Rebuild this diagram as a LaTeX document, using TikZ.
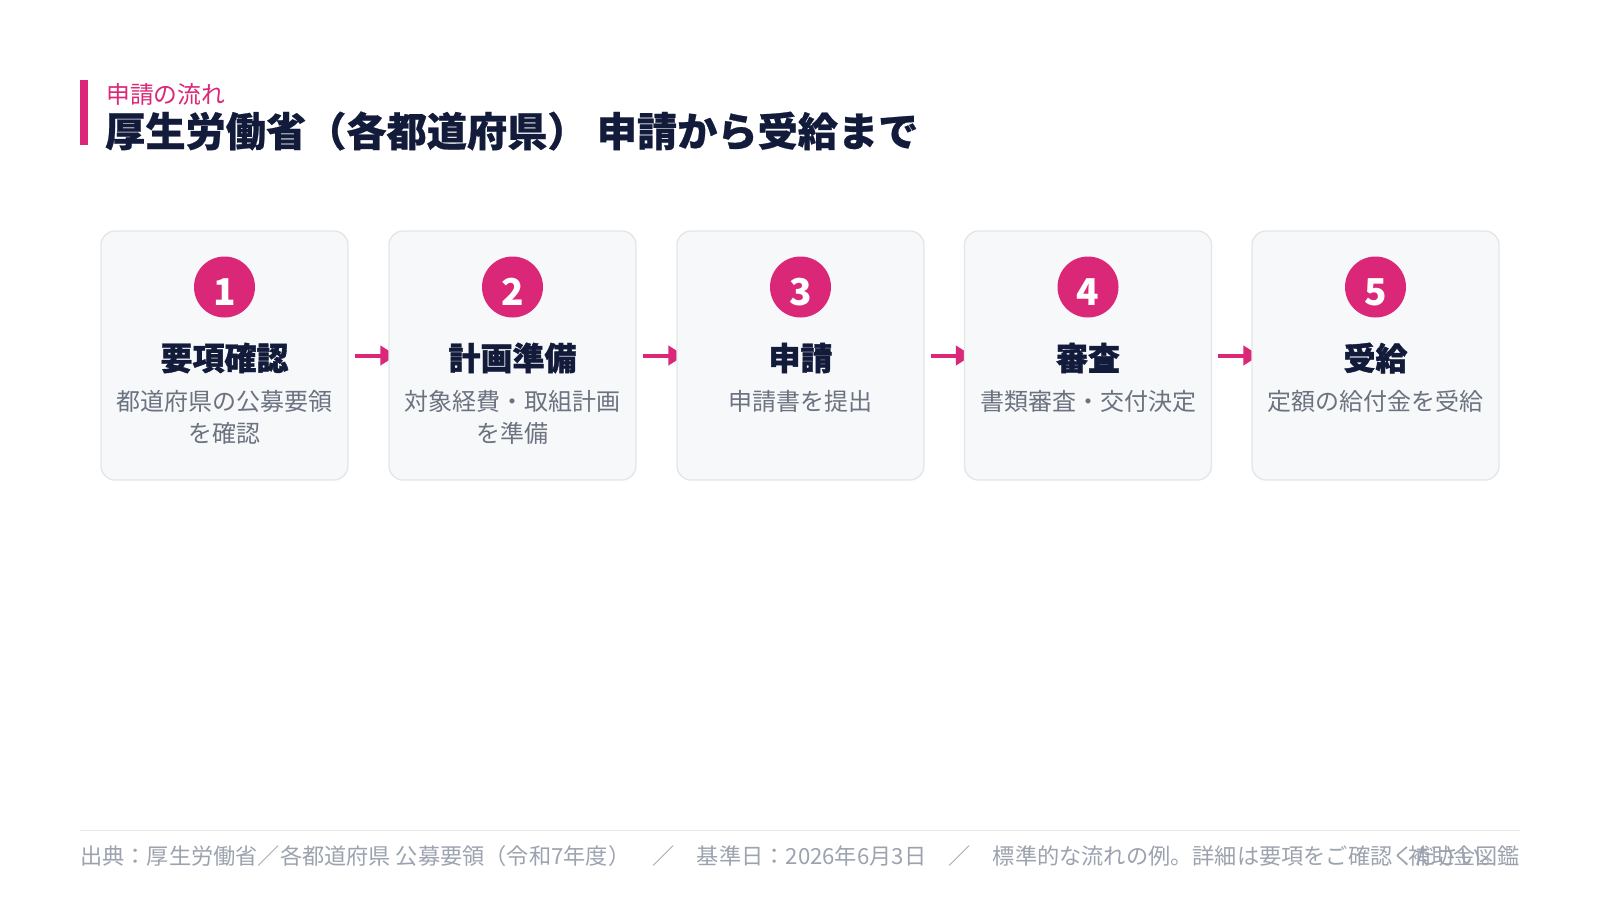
\documentclass[tikz,border=0pt]{standalone}
\usepackage{fontspec}
\setmainfont{Noto Sans CJK JP}
\newfontfamily\heavy[BoldFeatures={FakeBold=1.3}]{Noto Sans CJK JP}
\newfontfamily\semiheavy[BoldFeatures={FakeBold=0.6}]{Noto Sans CJK JP}
\usetikzlibrary{arrows.meta,backgrounds}
\definecolor{pink}{HTML}{DB2777}
\definecolor{navy}{HTML}{131B3B}
\definecolor{desc}{HTML}{6B7280}
\definecolor{foot}{HTML}{9CA3AF}
\definecolor{cardfill}{HTML}{F7F8FA}
\definecolor{cardline}{HTML}{E2E5EA}
\definecolor{rule}{HTML}{E5E7EB}
\tikzset{
  card/.style={draw=cardline, fill=cardfill, line width=1.3pt, rounded corners=14pt,
    minimum width=247pt, minimum height=249pt, inner sep=0pt},
  num/.style={circle, fill=pink, minimum size=61pt, inner sep=0pt, text=white},
  numtext/.style={text=white, inner sep=0pt, font=\fontsize{37}{40}\selectfont\bfseries},
  head/.style={text=navy, inner sep=0pt, font=\fontsize{32}{36}\selectfont\heavy\bfseries},
  line/.style={text=desc, inner sep=0pt, font=\fontsize{24}{30}\selectfont},
  arr/.style={draw=pink, line width=4pt, -{Triangle[length=16pt,width=19pt]}},
}
\begin{document}
\begin{tikzpicture}[x=1pt,y=-1pt]
\path[use as bounding box] (0,0) rectangle (1600,900);
% header
\fill[pink] (80,80) rectangle (88,145);
\node[anchor=west, inner sep=0pt, text=pink, font=\fontsize{23.8}{26}\selectfont] (sub) at (106,94) {申請の流れ};
\node[anchor=west, inner sep=0pt, text=navy, font=\fontsize{40.2}{44}\selectfont\semiheavy\bfseries] (title) at (105,131) {厚生労働省（各都道府県） 申請から受給まで};
% cards
\foreach \i/\x in {1/224.5, 2/512.5, 3/800.5, 4/1088, 5/1375.5} {
  \node[card] (c\i) at (\x,355.5) {};
  \node[num] (n\i) at (\x,287) {};
  \node[numtext] (t\i) at (\x,292) {\i};
}
\node[head] (h1) at (224.5,358) {要項確認};
\node[line] (d1a) at (224.5,401) {都道府県の公募要領};
\node[line] (d1b) at (224.5,433) {を確認};
\node[head] (h2) at (512.5,358) {計画準備};
\node[line] (d2a) at (512.5,401) {対象経費・取組計画};
\node[line] (d2b) at (512.5,433) {を準備};
\node[head] (h3) at (800.5,358) {申請};
\node[line] (d3a) at (800.5,401) {申請書を提出};
\node[head] (h4) at (1088,358) {審査};
\node[line] (d4a) at (1088,401) {書類審査・交付決定};
\node[head] (h5) at (1375.5,358) {受給};
\node[line] (d5a) at (1375.5,401) {定額の給付金を受給};
% background: page and arrows (arrow tips run under the cards)
\begin{scope}[on background layer]
  \fill[white] (0,0) rectangle (1600,900);
  \foreach \a/\b in {1/2, 2/3, 3/4, 4/5} {
    \draw[arr] ([xshift=6pt]c\a.east) -- ([xshift=8pt]c\b.west);
  }
\end{scope}
% footer
\coordinate (fl) at (80,830);
\coordinate (fr) at (1520,830);
\draw[rule, line width=1pt] (fl) -- (fr);
\node[anchor=west, inner sep=0pt, text=foot, font=\fontsize{22.2}{24}\selectfont] (src) at (80,856) {出典：厚生労働省／各都道府県 公募要領（令和7年度）　／　基準日：2026年6月3日　／　標準的な流れの例。詳細は要項をご確認ください。};
\node[anchor=east, inner sep=0pt, text=foot, font=\fontsize{22.2}{24}\selectfont] (brand) at (1520,856) {補助金図鑑};
\end{tikzpicture}
\end{document}
